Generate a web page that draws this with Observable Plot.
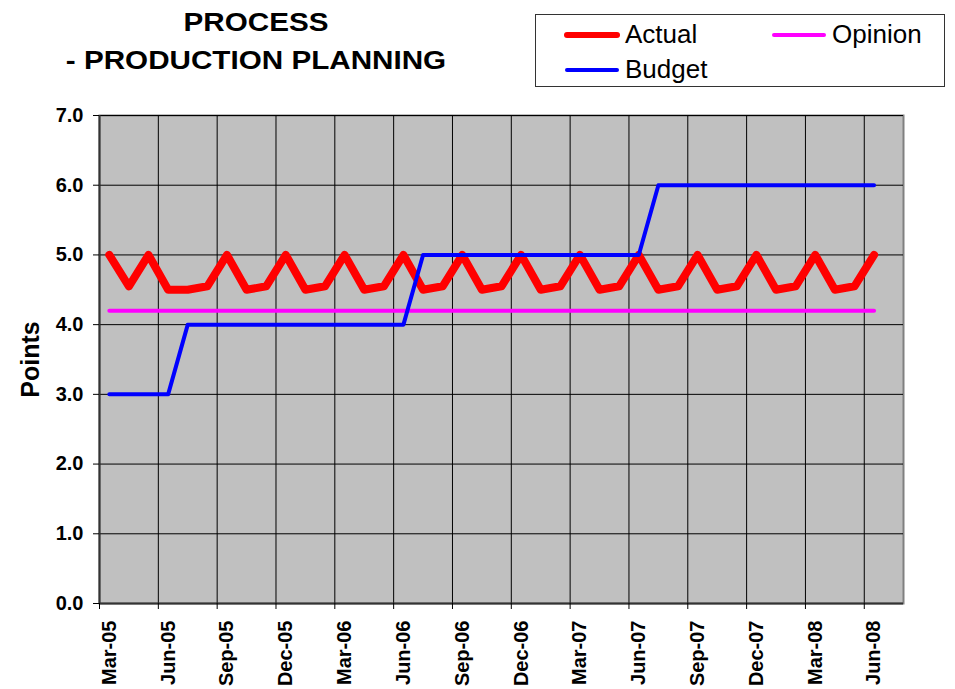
<!DOCTYPE html>
<html>
<head>
<meta charset="utf-8">
<script src="https://cdn.jsdelivr.net/npm/d3@7"></script>
<script src="https://cdn.jsdelivr.net/npm/@observablehq/plot@0.6"></script>
<style>
  body { margin: 0; background: #fff; font-family: "Liberation Sans", Arial, sans-serif; }
  #wrap { position: relative; width: 955px; height: 689px; }
  #header { position: relative; width: 955px; height: 95px; }
  #title { position: absolute; left: 56px; width: 400px; top: 3px; text-align: center; font-weight: bold; font-size: 26px; line-height: 38px; color: #000; transform: scaleX(1.14); transform-origin: 200px 0; }
  #legend { position: absolute; left: 535px; top: 14px; width: 408px; height: 71px; border: 1.5px solid #333; background: #fff; }
  .item { position: absolute; display: flex; align-items: center; font-size: 26px; color: #000; }
  .item svg { margin-right: 5px; }
  #chart svg { display: block; }
</style>
</head>
<body>
<div id="wrap">
  <div id="header">
    <div id="title">PROCESS<br>- PRODUCTION PLANNING</div>
    <div id="legend"></div>
  </div>
  <div id="chart"></div>
</div>
<script>
const months = ["Mar-05","Apr-05","May-05","Jun-05","Jul-05","Aug-05","Sep-05","Oct-05","Nov-05","Dec-05",
  "Jan-06","Feb-06","Mar-06","Apr-06","May-06","Jun-06","Jul-06","Aug-06","Sep-06","Oct-06","Nov-06","Dec-06",
  "Jan-07","Feb-07","Mar-07","Apr-07","May-07","Jun-07","Jul-07","Aug-07","Sep-07","Oct-07","Nov-07","Dec-07",
  "Jan-08","Feb-08","Mar-08","Apr-08","May-08","Jun-08"];
const actual = [5.0,4.55,5.0,4.5,4.5,4.55,5.0,4.5,4.55,5.0,
  4.5,4.55,5.0,4.5,4.55,5.0,4.5,4.55,5.0,4.5,4.55,5.0,
  4.5,4.55,5.0,4.5,4.55,5.0,4.5,4.55,5.0,4.5,4.55,5.0,
  4.5,4.55,5.0,4.5,4.55,5.0];
const budget = [3,3,3,3,4,4,4,4,4,4,4,4,4,4,4,4,5,5,5,5,5,5,5,5,5,5,5,5,6,6,6,6,6,6,6,6,6,6,6,6];
const opinion = months.map(() => 4.2);
const yTicks = [0,1,2,3,4,5,6,7];
const seriesNames = ["Actual","Opinion","Budget"];
const seriesColors = ["#ff0000","#ff00ff","#0000ff"];
const seriesWidths = [8,4,4];

const nCats = months.length + 1; // one empty category at the end
const rows = months.map((m, i) => ({i, m, actual: actual[i], budget: budget[i], opinion: opinion[i]}));
const labelIdx = months.map((m, i) => i).filter(i => i % 3 === 0);
const boundaries = labelIdx.slice();
const font = "'Liberation Sans', Arial, sans-serif";

const chart = Plot.plot({
  width: 955,
  height: 594,
  marginTop: 20,
  marginBottom: 86,
  marginLeft: 99,
  marginRight: 52,
  style: {fontFamily: font, background: "#fff", color: "#000"},
  x: {type: "linear", domain: [0, nCats]},
  y: {domain: [0, 7]},
  marks: [
    Plot.frame({fill: "#c0c0c0", stroke: "#808080", strokeWidth: 2}),
    Plot.gridY(yTicks, {stroke: "#000", strokeOpacity: 1, strokeWidth: 1}),
    Plot.gridX(boundaries.filter(b => b > 0), {stroke: "#000", strokeOpacity: 1, strokeWidth: 1}),
    Plot.ruleX([0], {stroke: "#333", strokeWidth: 2}),
    Plot.ruleY([0], {stroke: "#333", strokeWidth: 2}),
    Plot.axisY(yTicks, {tickSize: 6, tickPadding: 10, tickFormat: d3.format(".1f"), fontSize: 20, fontWeight: "bold", label: null, stroke: "#000"}),
    Plot.axisX(boundaries, {tickSize: 6, tickFormat: () => "", label: null}),
    Plot.axisX(labelIdx.map(i => i + 0.5), {tickSize: 0, tickPadding: 17, tickRotate: -90, tickFormat: d => months[Math.round(d - 0.5)], fontSize: 20, fontWeight: "bold", label: null}),
    Plot.text(["Points"], {frameAnchor: "left", textAnchor: "middle", rotate: -90, dx: -69, fontSize: 25, fontWeight: "bold"}),
    Plot.line(rows, {x: d => d.i + 0.5, y: "actual", stroke: seriesColors[0], strokeWidth: seriesWidths[0], strokeLinejoin: "round", strokeLinecap: "round"}),
    Plot.line(rows, {x: d => d.i + 0.5, y: "opinion", stroke: seriesColors[1], strokeWidth: seriesWidths[1], strokeLinecap: "round"}),
    Plot.line(rows, {x: d => d.i + 0.5, y: "budget", stroke: seriesColors[2], strokeWidth: seriesWidths[2], strokeLinejoin: "round", strokeLinecap: "round"})
  ]
});
document.getElementById("chart").appendChild(chart);

// legend
const legend = document.getElementById("legend");
const pos = [[28, 4], [235, 4], [28, 39]];
seriesNames.forEach((name, k) => {
  const div = document.createElement("div");
  div.className = "item";
  div.style.left = pos[k][0] + "px";
  div.style.top = pos[k][1] + "px";
  div.innerHTML = `<svg width="56" height="12"><line x1="3" x2="53" y1="6" y2="6" stroke="${seriesColors[k]}" stroke-width="${k === 0 ? 6 : 4}" stroke-linecap="round"/></svg><span>${name}</span>`;
  legend.appendChild(div);
});
</script>
</body>
</html>
